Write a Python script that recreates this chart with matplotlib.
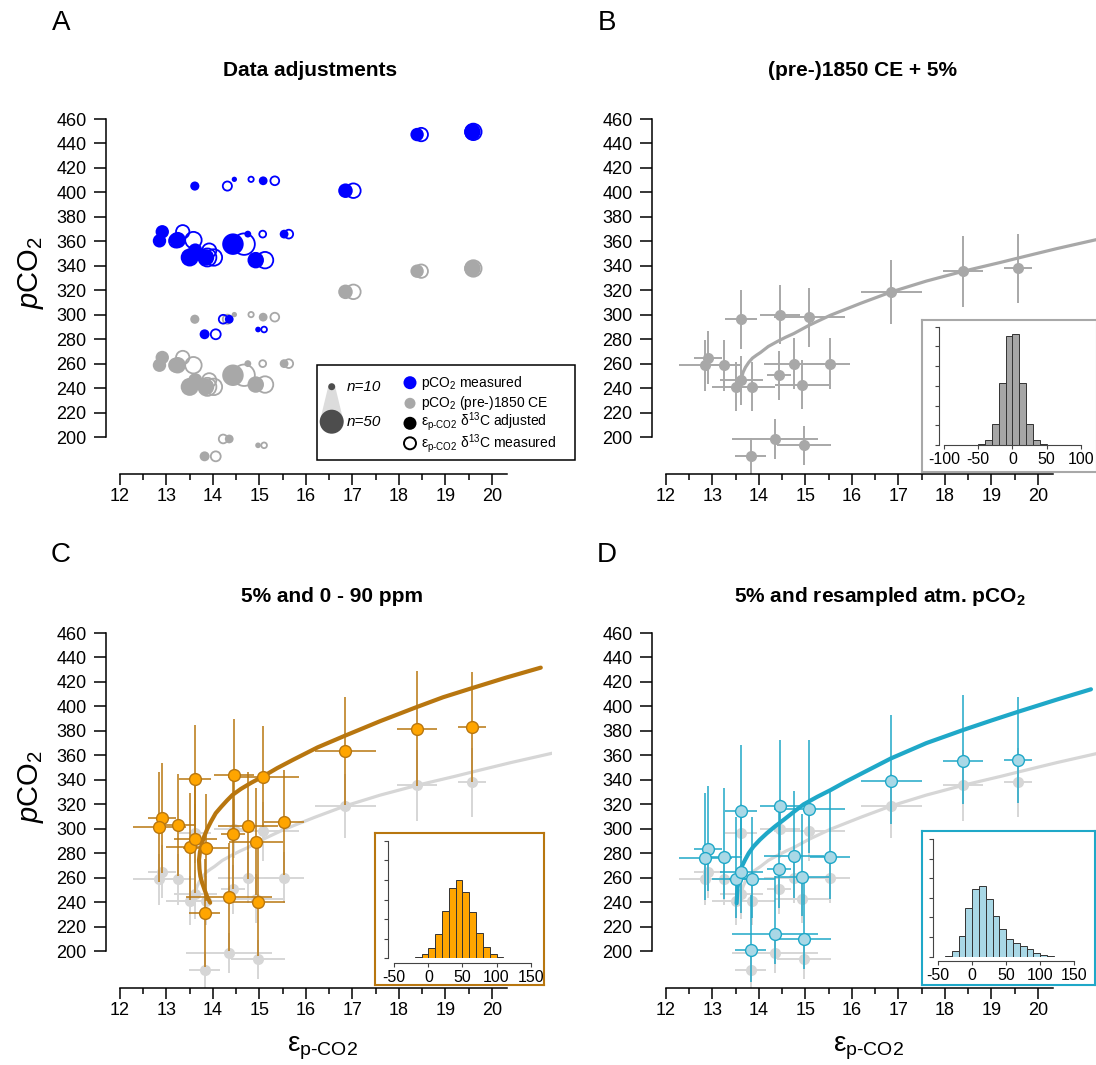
import numpy as np
import matplotlib
matplotlib.use("Agg")
import matplotlib.pyplot as plt
from matplotlib.patches import Rectangle, Circle, Polygon

plt.rcParams['font.family'] = ['Liberation Sans', 'DejaVu Sans']
plt.rcParams['mathtext.fontset'] = 'custom'
plt.rcParams['mathtext.rm'] = 'Liberation Sans'
plt.rcParams['mathtext.it'] = 'Liberation Sans:italic'
plt.rcParams['mathtext.bf'] = 'Liberation Sans:bold'

# ---------------- data ----------------
# epsilon p-CO2 with adjusted d13C (filled) and measured d13C (open)
eps = [12.91, 12.85, 13.24, 13.50, 13.62, 13.61, 13.85, 13.82, 14.35, 14.43,
       14.46, 14.75, 14.92, 14.97, 15.08, 15.53, 16.85, 18.39, 19.58]
eps_meas = [13.35, 13.20, 13.58, 13.88, 13.92, 14.31, 14.02, 14.06, 14.22, 14.67,
            14.82, 15.07, 15.12, 15.10, 15.33, 15.63, 17.02, 18.48, 19.60]
n_samples = [24, 24, 32, 36, 26, 13, 32, 15, 12, 45, 3, 7, 32, 4, 12, 12, 27, 24, 32]
pco2_meas = [367.8, 360.4, 361.0, 346.8, 352.5, 405.2, 346.8, 284.0, 296.3, 357.7,
             410.7, 365.9, 344.6, 287.9, 409.5, 365.9, 401.4, 447.3, 449.5]
pco2_1850 = [265.0, 258.7, 258.7, 241.0, 246.4, 296.3, 241.0, 184.2, 198.4, 250.5,
             300.1, 260.0, 242.9, 193.2, 298.0, 260.0, 318.7, 335.6, 337.8]
eps_err = [0.30, 0.58, 0.40, 0.50, 0.46, 0.34, 0.50, 0.34, 0.92, 0.25,
           0.43, 0.65, 0.58, 0.59, 0.76, 0.43, 0.66, 0.43, 0.30]
pco2_1850_err = [22, 21, 21, 20, 20, 24, 20, 15, 16, 20, 24, 21, 20, 16, 24, 21, 26, 29, 28]

pco2_c = [308.6, 301.7, 303.1, 285.4, 291.7, 340.4, 284.6, 230.9, 244.4, 295.6,
          343.9, 302.5, 289.5, 240.3, 342.6, 305.3, 363.3, 381.6, 383.2]
pco2_c_err = [45, 45, 42, 44, 44, 44, 44, 44, 44, 45, 46, 44, 44, 44, 41, 43, 44, 47, 45]

pco2_d = [283.7, 276.1, 276.9, 258.6, 264.4, 314.5, 258.6, 200.6, 214.2, 267.4,
          318.6, 277.5, 260.4, 210.1, 316.4, 276.9, 338.9, 355.6, 356.1]
pco2_d_err_lo = [35, 34, 34, 32, 33, 36, 32, 26, 25, 32, 36, 34, 32, 25, 36, 34, 35, 35, 35]
pco2_d_err_hi = [51, 53, 56, 51, 52, 54, 51, 45, 47, 52, 54, 53, 52, 46, 56, 53, 54, 54, 52]

curve_gray_x = [13.63, 13.66, 13.71, 13.78, 13.86, 13.95, 14.03, 14.20, 14.39, 14.57,
                14.75, 15.08, 15.54, 16.20, 16.85, 17.60, 18.40, 19.20, 19.59, 20.40, 21.27]
curve_gray_y = [249, 253, 257, 261, 264.5, 267, 269, 274, 278, 281.5,
                284.6, 291.4, 299.6, 309.5, 318.7, 327.5, 335.6, 342.8, 346.5, 354, 361.5]
curve_c_x = [13.94, 13.88, 13.82, 13.77, 13.73, 13.71, 13.70, 13.72, 13.76, 13.81,
             13.88, 13.96, 14.06, 14.18, 14.30, 14.42, 14.60, 14.82, 15.07, 15.38,
             15.72, 16.25, 16.83, 17.60, 18.37, 18.95, 19.56, 20.30, 21.05]
curve_c_y = [239.5, 244, 250, 255.4, 261, 267, 274.5, 281, 287.5, 293.6,
             300, 306, 312.7, 318, 323, 327.6, 332.5, 337.5, 342.6, 349.5,
             356.3, 366.5, 375.9, 388, 399.3, 407.5, 414.8, 423.5, 431.7]
curve_d_x = [13.52, 13.53, 13.54, 13.56, 13.58, 13.63, 13.70, 13.78, 13.88, 14.02,
             14.17, 14.35, 14.53, 14.75, 14.96, 15.25, 15.54, 15.87, 16.20, 16.84,
             17.60, 18.39, 19.00, 19.58, 20.40, 21.14]
curve_d_y = [239, 246, 252, 258, 263.5, 269, 274.4, 280, 285.3, 291,
             296.3, 302, 307.2, 313.8, 319.9, 326, 331.6, 338.5, 345, 357.5,
             370, 380.7, 388.5, 395.7, 405.5, 414]

hist_b_edges = [-50, -40, -30, -20, -10, 0, 10, 20, 30, 40, 50]
hist_b_counts = [5, 25, 105, 312, 554, 564, 312, 105, 25, 5]
hist_c_edges = [-20, -10, 0, 10, 20, 30, 40, 50, 60, 70, 80, 90, 100, 110]
hist_c_counts = [5, 20, 54, 122, 242, 359, 397, 339, 234, 131, 56, 20, 5]
hist_d_edges = [-40, -30, -20, -10, 0, 10, 20, 30, 40, 50, 60, 70, 80, 90, 100, 110, 120]
hist_d_counts = [5, 31, 105, 246, 346, 361, 292, 210, 139, 88, 71, 56, 37, 17, 8, 5]

yticks = [200, 220, 240, 260, 280, 300, 320, 340, 360, 380, 400, 420, 440, 460]
xticks = [12, 13, 14, 15, 16, 17, 18, 19, 20]
xticks_minor = [12.5, 13.5, 14.5, 15.5, 16.5, 17.5, 18.5, 19.5]

titles = ["Data adjustments", "(pre-)1850 CE + 5%", "5% and 0 - 90 ppm",
          r"5% and resampled atm. pCO$_\mathbf{2}$"]
panel_letters = ["A", "B", "C", "D"]

# ---------------- colours ----------------
BLUE = "#0000ff"
GRAY = "#a8a8a8"
LGRAY = "#d6d6d6"
ORANGE = "#ffa500"
BROWN = "#b8760f"
TEAL = "#1fa8c8"
LBLUE = "#a9d8e6"

W, H = 1096, 1065
fig = plt.figure(figsize=(W / 100, H / 100), dpi=100)


def rect(left, top, width, height):
    return [left / W, 1 - (top + height) / H, width / W, height / H]


def main_axes(left, top):
    ax = fig.add_axes(rect(left, top, 446.4, 367.2))
    ax.set_xlim(11.7, 21.3)
    ax.set_ylim(169.75, 470)
    for s in ['top', 'right']:
        ax.spines[s].set_visible(False)
    ax.spines['left'].set_bounds(200, 460)
    ax.spines['bottom'].set_bounds(12, 20.33)
    for s in ['left', 'bottom']:
        ax.spines[s].set_linewidth(1.1)
    ax.set_yticks(yticks)
    ax.set_xticks(xticks)
    ax.set_xticks(xticks_minor, minor=True)
    ax.tick_params(axis='y', length=9, width=1.1, labelsize=13, pad=5)
    ax.tick_params(axis='x', which='major', length=8, width=1.1, labelsize=13, pad=2)
    ax.tick_params(axis='x', which='minor', length=4.3, width=1.1)
    ax.patch.set_alpha(0)
    return ax


axA = main_axes(106, 106.8)
axB = main_axes(652, 106.8)
axC = main_axes(106, 620.8)
axD = main_axes(652, 620.8)

# ---- Panel A ----
n_arr = np.array(n_samples, dtype=float)
r_px = 2.075 + 0.1925 * n_arr
sizes = (2 * r_px * 0.72) ** 2
axA.scatter(eps_meas, pco2_1850, s=sizes, facecolors='none', edgecolors=GRAY, linewidths=1.3, zorder=2)
axA.scatter(eps, pco2_1850, s=sizes, color=GRAY, linewidths=0, zorder=3)
axA.scatter(eps_meas, pco2_meas, s=sizes, facecolors='none', edgecolors=BLUE, linewidths=1.3, zorder=4)
axA.scatter(eps, pco2_meas, s=sizes, color=BLUE, linewidths=0, zorder=5)

# ---- Panel B ----
axB.errorbar(eps, pco2_1850, xerr=eps_err, yerr=pco2_1850_err, fmt='o', color=GRAY,
             ms=8, mew=0, elinewidth=1.4, capsize=0, zorder=2)
axB.plot(curve_gray_x, curve_gray_y, color=GRAY, lw=2.3, zorder=3,
         solid_capstyle='round', solid_joinstyle='round')

# ---- Panels C and D: background ----
for ax in (axC, axD):
    ax.errorbar(eps, pco2_1850, xerr=eps_err, yerr=pco2_1850_err, fmt='o', color=LGRAY,
                ms=8, mew=0, elinewidth=1.4, capsize=0, zorder=1)
    ax.plot(curve_gray_x, curve_gray_y, color=LGRAY, lw=2.3, zorder=1.5,
            solid_joinstyle='round')

axC.errorbar(eps, pco2_c, xerr=eps_err, yerr=pco2_c_err, fmt='none', ecolor=BROWN,
             elinewidth=1.1, capsize=0, zorder=2)
axC.plot(curve_c_x, curve_c_y, color=BROWN, lw=3, zorder=3,
         solid_capstyle='round', solid_joinstyle='round')
axC.plot(eps, pco2_c, 'o', mfc=ORANGE, mec=BROWN, mew=1, ms=8.5, zorder=4, linestyle='none')

axD.errorbar(eps, pco2_d, xerr=eps_err, yerr=[pco2_d_err_lo, pco2_d_err_hi], fmt='none',
             ecolor=TEAL, elinewidth=1.1, capsize=0, zorder=2)
axD.plot(curve_d_x, curve_d_y, color=TEAL, lw=3, zorder=3,
         solid_capstyle='round', solid_joinstyle='round')
axD.plot(eps, pco2_d, 'o', mfc=LBLUE, mec=TEAL, mew=1, ms=8.5, zorder=4, linestyle='none')

# ---------------- overlay for annotations ----------------
ov = fig.add_axes([0, 0, 1, 1])
ov.set_xlim(0, W)
ov.set_ylim(H, 0)
ov.axis('off')

# legend of panel A
ov.add_patch(Rectangle((316.7, 365), 258.3, 95, facecolor='white', edgecolor='black', lw=1.1))
ov.add_patch(Polygon([(328.2, 386.7), (335.2, 386.7), (343.7, 421.7), (319.7, 421.7)],
                     closed=True, facecolor='#dcdcdc', edgecolor='none'))
ov.add_patch(Circle((331.7, 386.7), 3.5, facecolor='#4d4d4d', edgecolor='none'))
ov.add_patch(Circle((331.7, 421.7), 12, facecolor='#4d4d4d', edgecolor='none'))
ov.text(347, 386.7, "n=10", fontsize=11, style='italic', va='center', ha='left')
ov.text(347, 421.7, "n=50", fontsize=11, style='italic', va='center', ha='left')
ov.add_patch(Circle((410, 382.7), 6.5, facecolor=BLUE, edgecolor='none'))
ov.add_patch(Circle((410, 403.3), 5.5, facecolor=GRAY, edgecolor='none'))
ov.add_patch(Circle((410, 423.3), 6.5, facecolor='black', edgecolor='none'))
ov.add_patch(Circle((410, 443.3), 6.0, facecolor='none', edgecolor='black', lw=1.4))
leg_texts = [r"pCO$_2$ measured", r"pCO$_2$ (pre-)1850 CE",
             r"ε$_{\mathrm{p}\text{-}\mathrm{CO2}}$ δ$^{13}$C adjusted",
             r"ε$_{\mathrm{p}\text{-}\mathrm{CO2}}$ δ$^{13}$C measured"]
for yy, t in zip([382.7, 402.8, 421.8, 443.6], leg_texts):
    ov.text(421, yy, t, fontsize=10, va='center', ha='left')

# panel letters and titles
for (lx, ly), letter in zip([(61, 23), (607, 23), (61, 555), (607, 555)], panel_letters):
    ov.text(lx, ly, letter, fontsize=20, ha='center', va='center')
for (tx, ty), t in zip([(310, 70), (863, 70), (332, 596), (880, 596)], titles):
    ov.text(tx, ty, t, fontsize=15, fontweight='bold', ha='center', va='center')

# axis labels
for yy in (272, 786):
    ov.text(31, yy, r"$p$CO$_2$", fontsize=21, rotation=90, ha='center', va='center')
for xx in (322, 868):
    ov.text(xx, 1048, r"ε$_{\mathrm{p}\text{-}\mathrm{CO2}}$", fontsize=20, ha='center', va='center')


# ---------------- insets ----------------
def inset(box, hist_rect, xlim, outward, edges, counts, fill, border, xt):
    bx = fig.add_axes(rect(*box))
    bx.set_xticks([])
    bx.set_yticks([])
    bx.set_facecolor('white')
    for s in bx.spines.values():
        s.set_edgecolor(border)
        s.set_linewidth(1.5)
    hx = fig.add_axes(rect(*hist_rect))
    hx.patch.set_alpha(0)
    widths = np.diff(edges)
    hx.bar(edges[:-1], counts, width=widths, align='edge', color=fill,
           edgecolor='#333333', linewidth=0.7)
    hx.set_xlim(*xlim)
    hx.set_ylim(0, 600)
    for s in ['top', 'right']:
        hx.spines[s].set_visible(False)
    hx.spines['left'].set_bounds(0, 600)
    hx.spines['bottom'].set_bounds(xt[0], xt[-1])
    hx.spines['bottom'].set_position(('outward', outward))
    for s in ['left', 'bottom']:
        hx.spines[s].set_linewidth(0.8)
        hx.spines[s].set_color('#444444')
    hx.set_yticks([0, 100, 200, 300, 400, 500, 600])
    hx.set_yticklabels([])
    hx.set_xticks(xt)
    hx.set_xticklabels([str(v) for v in xt])
    hx.tick_params(axis='y', length=3, width=0.8, color='#444444')
    hx.tick_params(axis='x', length=3, width=0.8, color='#444444', labelsize=11.5, pad=2)
    return hx


inset((921.7, 320, 175.3, 151.7), (938.7, 326.7, 151.3, 118.3), (-107.8, 113.6), 0,
      hist_b_edges, hist_b_counts, '#a6a6a6', GRAY, [-100, -50, 0, 50, 100])
inset((375, 833.3, 169.3, 151.7), (388.3, 840.7, 148.7, 117.6), (-58.8, 159.4), 3.2,
      hist_c_edges, hist_c_counts, ORANGE, BROWN, [-50, 0, 50, 100, 150])
inset((921.7, 830.7, 173.3, 154.3), (932.7, 839, 152.3, 117.7), (-58.2, 165.8), 2.9,
      hist_d_edges, hist_d_counts, LBLUE, TEAL, [-50, 0, 50, 100, 150])

fig.savefig("out.png", dpi=100)
